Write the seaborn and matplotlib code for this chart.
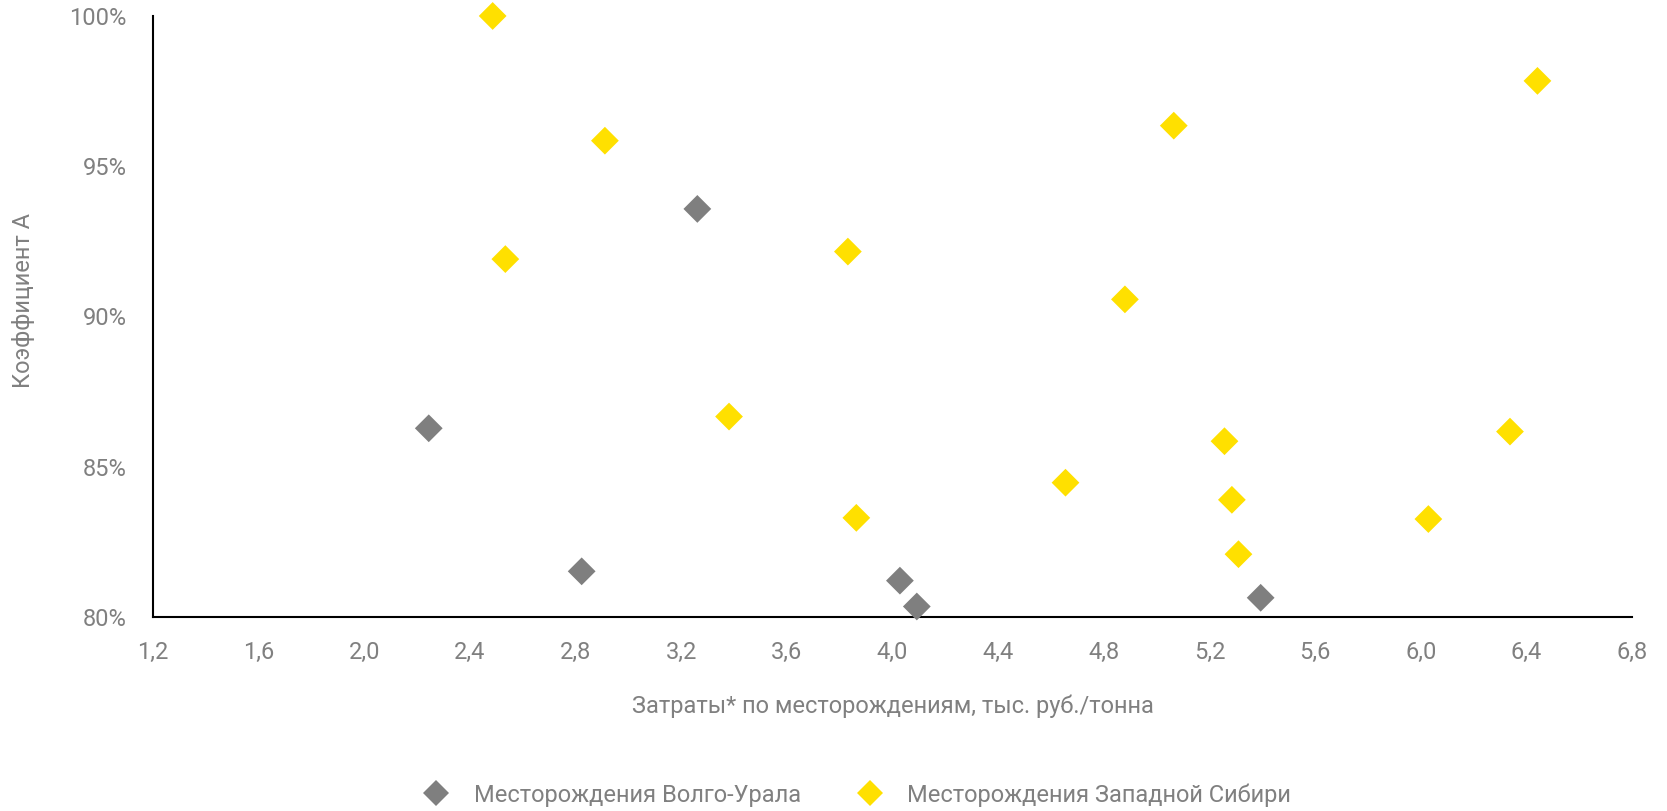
import pandas as pd
import matplotlib.pyplot as plt
import seaborn as sns
from matplotlib.ticker import FuncFormatter, MultipleLocator

# Volga-Ural fields
volga_x = [2.244, 2.823, 3.261, 4.028, 4.092, 5.394]
volga_y = [0.8628, 0.8152, 0.9358, 0.8121, 0.8035, 0.8064]

# West Siberia fields
sib_x = [2.486, 2.534, 2.911, 3.381, 3.831, 3.863, 4.655, 4.880, 5.065,
         5.257, 5.285, 5.310, 6.029, 6.338, 6.442]
sib_y = [1.0000, 0.9191, 0.9585, 0.8667, 0.9216, 0.8330, 0.8447, 0.9057, 0.9635,
         0.8585, 0.8390, 0.8209, 0.8326, 0.8617, 0.9784]

series_names = ["Месторождения Волго-Урала", "Месторождения Западной Сибири"]
colors = ["#7F7F7F", "#FFE000"]

df = pd.concat([
    pd.DataFrame({"x": volga_x, "y": volga_y, "series": series_names[0]}),
    pd.DataFrame({"x": sib_x, "y": sib_y, "series": series_names[1]}),
])

sns.set_style("white")
plt.rcParams["font.family"] = ["Roboto", "DejaVu Sans"]
gray = "#808080"
fs = 17

fig = plt.figure(figsize=(16.67, 8.11), dpi=100)
ax = fig.add_axes([0.0918, 0.2392, 0.8872, 0.7411])

sns.scatterplot(data=df, x="x", y="y", hue="series", palette=colors,
                marker="D", s=200, linewidth=0, clip_on=False, zorder=3,
                legend=False, ax=ax)

ax.set_xlim(1.2, 6.8)
ax.set_ylim(0.80, 1.00)
ax.xaxis.set_major_locator(MultipleLocator(0.4))
ax.yaxis.set_major_locator(MultipleLocator(0.05))
ax.xaxis.set_major_formatter(FuncFormatter(lambda v, p: f"{v:.1f}".replace(".", ",")))
ax.yaxis.set_major_formatter(FuncFormatter(lambda v, p: f"{v * 100:.0f}%"))

for side in ["top", "right"]:
    ax.spines[side].set_visible(False)
for side in ["left", "bottom"]:
    ax.spines[side].set_color("black")
    ax.spines[side].set_linewidth(1.5)

ax.tick_params(axis="both", direction="out", length=6, width=1.5, color="black",
               labelsize=fs, labelcolor=gray)
ax.tick_params(axis="x", pad=11)
ax.tick_params(axis="y", pad=13)

ax.set_xlabel("Затраты* по месторождениям, тыс. руб./тонна", fontsize=fs,
              color=gray, labelpad=22)
ax.set_ylabel("Коэффициент А", fontsize=fs, color=gray)
ax.yaxis.set_label_coords(-0.08, 0.527)

handles = [plt.Line2D([], [], marker="D", linestyle="none", markersize=13,
                      markerfacecolor=c, markeredgewidth=0) for c in colors]
fig.legend(handles, series_names, loc="center", bbox_to_anchor=(0.511, 0.02),
           ncol=2, frameon=False, fontsize=fs, labelcolor=gray,
           handletextpad=0.6, columnspacing=1.9)

fig.savefig("out.png", dpi=100)
